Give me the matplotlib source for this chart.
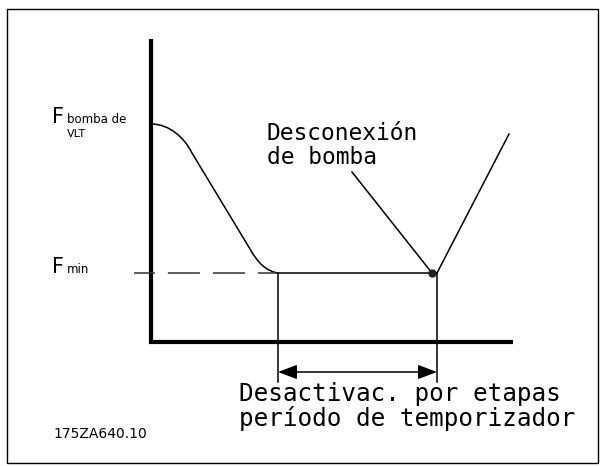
import matplotlib
matplotlib.use('Agg')
import matplotlib.pyplot as plt
from matplotlib.path import Path
from matplotlib.patches import PathPatch, Rectangle

# diagram units: t = time (right), f = frequency (up), origin at the axes corner
f_vlt = 218
f_min = 69
axis_t_max = 362
axis_f_max = 303

# ramp down from F_vlt to F_min (bezier control points)
ramp_t = [0, 18, 33, 41, 99, 107, 115, 127]
ramp_f = [218, 218, 205, 189, 93, 79, 71, 69]
ramp_codes = [Path.MOVETO, Path.CURVE4, Path.CURVE4, Path.CURVE4,
              Path.LINETO, Path.CURVE4, Path.CURVE4, Path.CURVE4]

t_hold_start = 127
t_cutout = 281
t_hold_end = 286
rise_t = [286, 358]
rise_f = [69, 208]
leader_t = [201, 281]
leader_f = [170, 69]
dash_t = [-17, 127]
timer_bottom = -40
timer_arrow_f = -30

cutout_lines = ['Desconexión', 'de bomba']
timer_lines = ['Desactivac. por etapas', 'período de temporizador']

fig = plt.figure(figsize=(6.01, 4.66), dpi=100)
ax = fig.add_axes([0, 0, 1, 1])
ax.set_xlim(-151, 450)
ax.set_ylim(-124, 342)
ax.axis('off')

# outer frame
fig.add_artist(Rectangle((7 / 601, 3 / 466), 591 / 601, 454 / 466,
                         transform=fig.transFigure, fill=False,
                         edgecolor='black', lw=1.0))

# axes
ax.plot([0, 0, axis_t_max], [axis_f_max, 0, 0], color='black', lw=3,
        solid_joinstyle='miter', solid_capstyle='butt')

# ramp curve
verts = list(zip(ramp_t, ramp_f))
ax.add_patch(PathPatch(Path(verts, ramp_codes), fill=False, lw=1.1, edgecolor='black'))

# F_min dashed reference and hold line
ax.plot(dash_t[::-1], [f_min, f_min], color='#333333', lw=1.1,
        linestyle=(7.9, (21, 8.5)))
ax.plot([t_hold_start, t_hold_end], [f_min, f_min], color='black', lw=1.1)
ax.plot(rise_t, rise_f, color='black', lw=1.1)
ax.plot(leader_t, leader_f, color='black', lw=1.1)
ax.plot(t_cutout, f_min, 'o', color='#222222', ms=5)

# timer markers
ax.plot([t_hold_start, t_hold_start], [f_min, timer_bottom], color='black', lw=1.1)
ax.plot([t_hold_end, t_hold_end], [f_min, timer_bottom], color='black', lw=1.1)
ax.annotate('', xy=(t_hold_end, timer_arrow_f), xytext=(t_hold_start, timer_arrow_f),
            arrowprops=dict(arrowstyle='<|-|>,head_length=0.58,head_width=0.22',
                            color='black', lw=1.1, mutation_scale=20,
                            shrinkA=0, shrinkB=0))

# labels
ax.text(-99, 219, 'F', fontsize=15, family='DejaVu Sans', va='baseline')
ax.text(-84, 219, 'bomba de', fontsize=8.5, family='DejaVu Sans', va='baseline')
ax.text(-84, 205, 'VLT', fontsize=8, family='DejaVu Sans', va='baseline')
ax.text(-99, 69, 'F', fontsize=15, family='DejaVu Sans', va='baseline')
ax.text(-84, 69, 'min', fontsize=8.5, family='DejaVu Sans', va='baseline')

for line, f in zip(cutout_lines, [202, 178]):
    ax.text(116, f, line, fontsize=16.5, family='DejaVu Sans Mono', va='baseline')
for line, f in zip(timer_lines, [-59, -84]):
    ax.text(88, f, line, fontsize=17.5, family='DejaVu Sans Mono', va='baseline')
ax.text(-98, -96, '175ZA640.10', fontsize=10, family='DejaVu Sans', va='baseline')

fig.savefig('out.png', dpi=100)
